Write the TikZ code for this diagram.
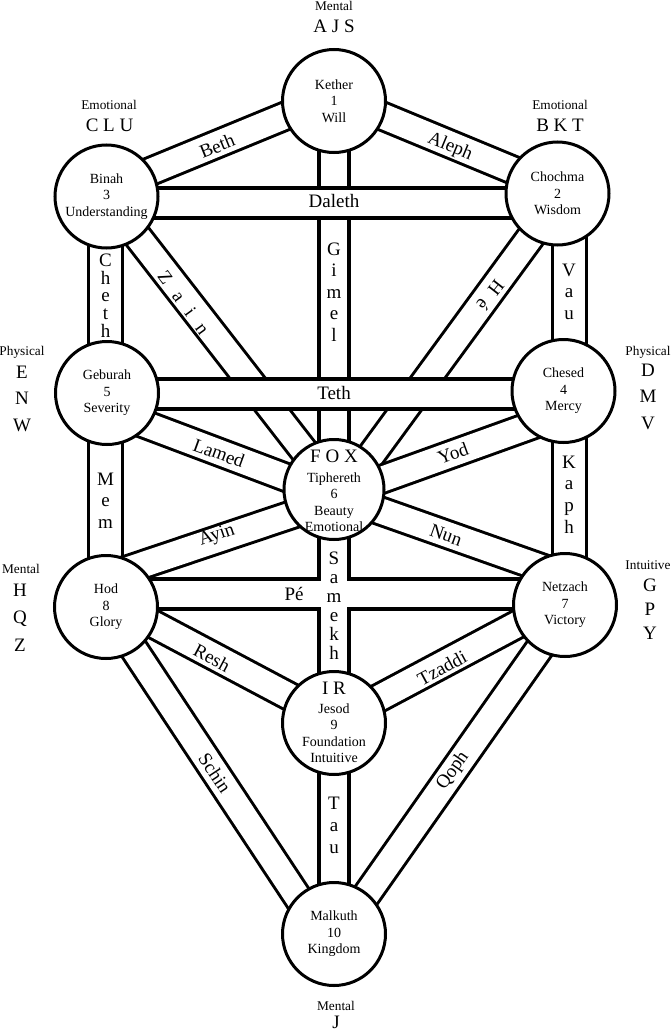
\documentclass[tikz,border=0pt]{standalone}
\usepackage{fontspec}
\setmainfont{Liberation Serif}
\usetikzlibrary{calc}
\newcommand\fsef{\fontsize{14}{16.5}\selectfont}
\newcommand\fpath{\fontsize{19}{21.5}\selectfont}
\newcommand\fside{\fontsize{13.3}{15}\selectfont}
\newcommand\bandpath[3]{\draw[#1B] #2 -- #3; \draw[#1W] #2 -- #3;}
\begin{document}
\begin{tikzpicture}[x=1pt,y=-1pt,
  sef/.style={circle,draw,line width=3pt,fill=white,minimum size=103pt,inner sep=0pt,align=center,font=\fsef},
  seftxt/.style={align=center,font=\fsef,inner sep=0pt},
  plab/.style={font=\fpath,inner sep=0pt},
  stack/.style={align=center,inner sep=0pt,font=\fontsize{19}{#1}\selectfont},
  side/.style={font=\fside,inner sep=0pt},
  thkB/.style={line width=34.5pt},
  thkW/.style={white,line width=25.5pt},
  verB/.style={line width=37pt},
  verW/.style={white,line width=31pt},
  diaB/.style={line width=31pt},
  diaW/.style={white,line width=25pt},
]
\useasboundingbox (0,0) rectangle (670,1033);
\fill[white] (0,0) rectangle (670,1033);
% sephiroth centres
\coordinate (kether) at (334,101);
\coordinate (binah) at (106.5,196.5);
\coordinate (chochma) at (557.5,193.5);
\coordinate (geburah) at (107,393);
\coordinate (chesed) at (563.5,391);
\coordinate (tiph) at (334,489.5);
\coordinate (hod) at (106,607);
\coordinate (netzach) at (565,605);
\coordinate (jesod) at (334,723);
\coordinate (malkuth) at (334,934);
% paths
\bandpath{dia}{($(binah)+(0,-7)$)}{($(kether)+(0,-5)$)}
\bandpath{dia}{($(kether)+(0,-5)$)}{($(chochma)+(0,-5)$)}
\bandpath{thk}{(kether)}{(tiph)}
\bandpath{ver}{($(binah)+(-1,0)$)}{($(geburah)+(-1.5,0)$)}
\bandpath{ver}{($(chochma)+(11.5,0)$)}{($(chesed)+(5.5,0)$)}
\bandpath{dia}{(binah)}{(tiph)}
\bandpath{dia}{($(chochma)+(5,0)$)}{($(tiph)+(12,0)$)}
\bandpath{thk}{($(binah)+(0,6.5)$)}{($(chochma)+(0,9.5)$)}
\bandpath{thk}{($(geburah)+(0,1)$)}{($(chesed)+(0,3)$)}
\bandpath{dia}{($(geburah)+(0,17)$)}{($(tiph)+(0,6)$)}
\bandpath{dia}{($(chesed)+(0,23)$)}{($(tiph)+(0,7)$)}
\bandpath{ver}{($(geburah)+(-1.5,0)$)}{($(hod)+(-0.5,0)$)}
\bandpath{ver}{($(chesed)+(5.5,0)$)}{($(netzach)+(4,0)$)}
\bandpath{dia}{($(hod)+(0,-30)$)}{($(tiph)+(0,11)$)}
\bandpath{dia}{($(netzach)+(0,-29)$)}{($(tiph)+(0,5)$)}
% Pe and Samekh crossing
\draw[thkB] ($(hod)+(0,-13)$) -- ($(netzach)+(0,-11)$);
\draw[thkB] (tiph) -- (jesod);
\draw[thkW] ($(hod)+(0,-13)$) -- ($(netzach)+(0,-11)$);
\draw[thkW] (tiph) -- (jesod);
\bandpath{dia}{($(hod)+(0,-8)$)}{($(jesod)+(0,-3)$)}
\bandpath{dia}{($(netzach)+(0,-6)$)}{($(jesod)+(0,-1)$)}
\bandpath{dia}{(hod)}{($(malkuth)+(-12,0)$)}
\bandpath{dia}{($(netzach)+(5,0)$)}{($(malkuth)+(5,0)$)}
\bandpath{thk}{(jesod)}{(malkuth)}
% circles
\node[sef] (ketherN) at (kether) {Kether\\1\\Will};
\node[sef] (binahN) at (binah) {Binah\\3\\Understanding};
\node[sef] (chochmaN) at (chochma) {Chochma\\2\\Wisdom};
\node[sef] (geburahN) at (geburah) {Geburah\\5\\Severity};
\node[sef] (chesedN) at (chesed) {Chesed\\4\\Mercy};
\node[sef,minimum size=100pt] (tiphN) at (tiph) {};
\node[plab] (fox) at (334,456) {F O X};
\node[seftxt] (tiphT) at (334,502) {Tiphereth\\6\\Beauty\\Emotional};
\node[sef] (hodN) at (hod) {Hod\\8\\Glory};
\node[sef] (netzachN) at (netzach) {Netzach\\7\\Victory};
\node[sef] (jesodN) at (jesod) {};
\node[plab] (ir) at (334,688) {I R};
\node[seftxt] (jesodT) at (334,733) {Jesod\\9\\Foundation\\Intuitive};
\node[sef] (malkuthN) at (malkuth) {Malkuth\\10\\Kingdom};
% path labels
\node[plab,rotate=22] (beth) at (217,146) {Beth};
\node[plab,rotate=-22.5] (aleph) at (450,147) {Aleph};
\node[plab] (daleth) at (334,201) {Daleth};
\node[stack=21.4] (gimel) at (334,292) {G\\i\\m\\e\\l};
\node[stack=17.7] (cheth) at (105.5,295.5) {C\\h\\e\\t\\h};
\node[stack=21.5] (vau) at (569,291.5) {V\\a\\u};
\node[plab,rotate=-54] (zain) at (183.5,302.5) {Z\kern13pt a\kern13pt i\kern13pt n};
\node[plab,rotate=-128] (he) at (490.5,295.5) {H\kern10pt é};
\node[plab] (teth) at (334,393) {Teth};
\node[plab,rotate=-20] (lamed) at (219,453) {Lamed};
\node[plab,rotate=20] (yod) at (453,453) {Yod};
\node[stack=21.5] (mem) at (105.5,500.5) {M\\e\\m};
\node[stack=21.7] (kaph) at (569,494.5) {K\\a\\p\\h};
\node[plab,rotate=18.6] (ayin) at (217,536) {Ayin};
\node[plab,rotate=-19.6] (nun) at (446,535) {Nun};
\node[plab] (pe) at (294,594) {Pé};
\node[stack=19] (samekh) at (334,605.5) {S\\a\\m\\e\\k\\h};
\node[plab,rotate=-28] (resh) at (212,658) {Resh};
\node[plab,rotate=28.4] (tzaddi) at (442,668) {Tzaddi};
\node[plab,rotate=-56.5] (schin) at (215,773) {Schin};
\node[plab,rotate=55] (qoph) at (453,771) {Qoph};
\node[stack=22] (tau) at (334,825) {T\\a\\u};
% side labels
\node[side] (topM) at (334,6) {Mental};
\node[plab] (ajs) at (334,26) {A J S};
\node[side] (lEm) at (109,105) {Emotional};
\node[plab] (clu) at (109.5,125) {C L U};
\node[side] (rEm) at (560,105) {Emotional};
\node[plab] (bkt) at (560,125) {B K T};
\node[side] (lPh) at (22,352) {Physical};
\node[stack=26.5] (enw) at (22,398.5) {E\\N\\W};
\node[side] (rPh) at (648,352) {Physical};
\node[stack=26.5] (dmv) at (648,396.5) {D\\M\\V};
\node[side] (lMe) at (21,569) {Mental};
\node[stack=27.5] (hqz) at (20,617.5) {H\\Q\\Z};
\node[side] (rIn) at (648,565) {Intuitive};
\node[stack=24] (gpy) at (650,609) {G\\P\\Y};
\node[side] (bMe) at (336,1006) {Mental};
\node[plab] (bj) at (336,1022) {J};
\end{tikzpicture}
\end{document}
